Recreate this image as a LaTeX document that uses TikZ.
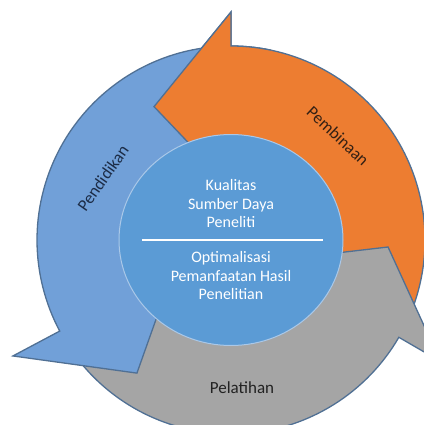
\documentclass[tikz,border=0pt]{standalone}
\usepackage{fontspec}
\setmainfont{Carlito}
\definecolor{orangefill}{RGB}{237,125,49}
\definecolor{grayfill}{RGB}{165,165,165}
\definecolor{bluefill}{RGB}{113,160,216}
\definecolor{corefill}{RGB}{91,155,213}
\definecolor{coreedge}{RGB}{170,200,232}
\definecolor{edgeblue}{RGB}{80,112,148}
\definecolor{navytext}{RGB}{28,44,70}
\definecolor{browntext}{RGB}{52,32,20}
\definecolor{darktext}{RGB}{34,34,34}

% The three circular arrows, in polar coordinates around the centre
\newcommand\pathOrange{(-25:194) arc[start angle=-25, end angle=90, radius=194]
  -- (90:228) -- (120:154) -- (104.7:75) -- (90:90)
  arc[start angle=90, end angle=-25, radius=90] -- cycle}
\newcommand\pathGray{(212:194) arc[start angle=212, end angle=329.9, radius=194]
  -- (329.9:242) -- (357.45:157.2) -- (346.5:73) -- (329.9:90)
  arc[start angle=329.9, end angle=212, radius=90] -- cycle}
\newcommand\pathBlue{(93:194) arc[start angle=93, end angle=208, radius=194]
  -- (208:247) -- (234.75:163) -- (217:80) -- (208:90)
  arc[start angle=208, end angle=93, radius=90] -- cycle}

\begin{document}
\begin{tikzpicture}[x=1pt,y=1pt,
  arrowshape/.style={draw=edgeblue, line width=1.3pt, line join=miter},
  coretext/.style={text=white, align=center, inner sep=0pt,
    font=\fontsize{16}{18.5}\selectfont},
  ringlabel/.style={inner sep=0pt, font=\fontsize{17}{20}\selectfont}]
\useasboundingbox (0,0) rectangle (423,-425);

\begin{scope}[shift={(231,-240)}]
  % arrows: orange first, gray over its tail, blue over the gray tail
  \path[arrowshape, fill=orangefill] \pathOrange;
  \path[arrowshape, fill=grayfill] \pathGray;
  \path[arrowshape, fill=bluefill] \pathBlue;
  % the orange head lies over the blue tail
  \begin{scope}
    \clip (0,0) -- (78:280) arc[start angle=78, end angle=140, radius=280] -- cycle;
    \path[arrowshape, fill=orangefill] \pathOrange;
  \end{scope}
  % central disc
  \draw[fill=corefill, draw=coreedge, line width=1pt] (0,0) ellipse[x radius=112, y radius=105.5];
\end{scope}

% central texts and separator
\node[coretext] (quality) at (231,-204) {Kualitas\\Sumber Daya\\Peneliti};
\node[coretext] (usage) at (231,-276) {Optimalisasi\\Pemanfaatan Hasil\\Penelitian};
\coordinate (sepL) at (142,-240);
\coordinate (sepR) at (323,-240);
\draw[white, line width=1.1pt] (sepL) -- (sepR);

% arrow labels
\node[ringlabel, text=browntext, rotate=-43] (pembinaan) at (338,-136) {Pembinaan};
\node[ringlabel, text=navytext, rotate=55] (pendidikan) at (103,-178) {Pendidikan};
\node[ringlabel, text=darktext] (pelatihan) at (242,-388) {Pelatihan};
\end{tikzpicture}
\end{document}
